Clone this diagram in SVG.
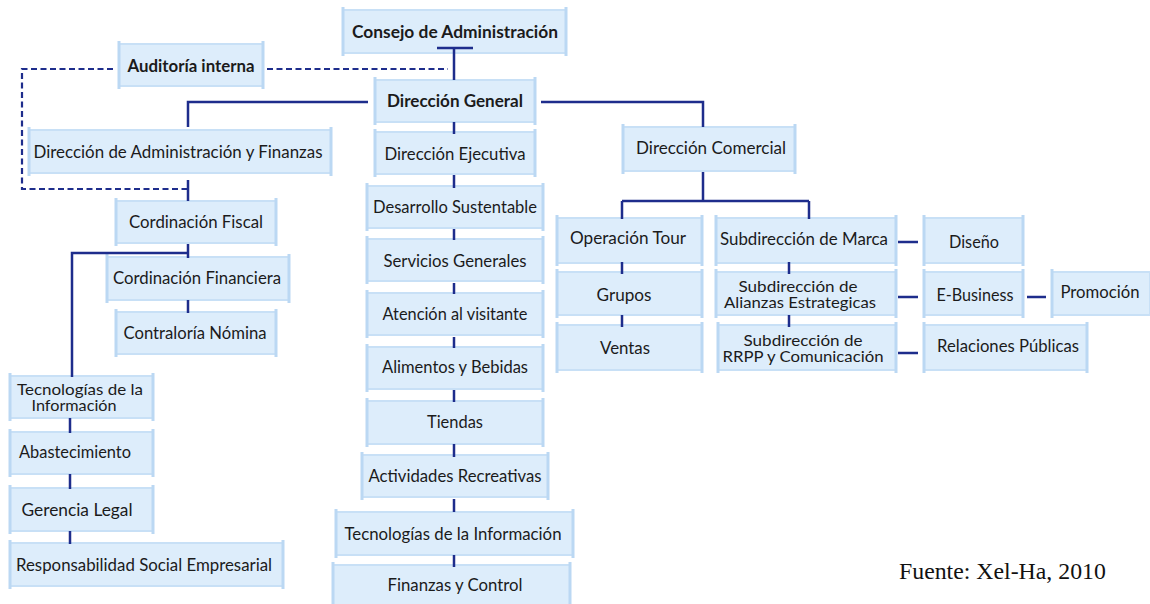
<svg xmlns="http://www.w3.org/2000/svg" width="1150" height="604" viewBox="0 0 1150 604">
<style>
.bg{fill:#ffffff}
.box{fill:#ddedfb;stroke:#c8e0f6;stroke-width:2}
.bar{stroke:#bbd8f3;stroke-width:3;fill:none}
.t{font-family:Lato,"Noto Sans","DejaVu Sans",sans-serif;font-size:16.5px;fill:#1b1b1b;text-anchor:middle;dominant-baseline:central}
.s{font-size:15px}
.b{font-weight:bold}
.c{stroke:#1e2d8c;stroke-width:2.5;fill:none}
.d{stroke:#1e2d8c;stroke-width:2.2;fill:none;stroke-dasharray:6 3.5}
.src{font-family:"Liberation Serif","Times New Roman",serif;font-size:23.8px;fill:#111}
</style>
<rect class="bg" x="0" y="0" width="1150" height="604"/>

<g id="n-consejo"><rect class="box" x="343" y="10" width="223" height="43"/><path class="bar" d="M343,7V56M566,7V56"/><text class="t b" x="455" y="32" textLength="206" lengthAdjust="spacingAndGlyphs">Consejo de Administración</text></g>
<g id="n-auditoria"><rect class="box" x="119" y="44" width="144" height="42"/><path class="bar" d="M119,41V89M263,41V89"/><text class="t b" x="191" y="66" textLength="127" lengthAdjust="spacingAndGlyphs">Auditoría interna</text></g>
<g id="n-dg"><rect class="box" x="375" y="80" width="160" height="42"/><path class="bar" d="M375,77V125M535,77V125"/><text class="t b" x="455" y="101" textLength="136" lengthAdjust="spacingAndGlyphs">Dirección General</text></g>
<g id="n-diradmin"><rect class="box" x="29" y="130" width="302" height="43"/><path class="bar" d="M29,127V176M331,127V176"/><text class="t" x="178" y="152" textLength="289" lengthAdjust="spacingAndGlyphs">Dirección de Administración y Finanzas</text></g>
<g id="n-direj"><rect class="box" x="375" y="132" width="160" height="42"/><path class="bar" d="M375,129V177M535,129V177"/><text class="t" x="455" y="154" textLength="141" lengthAdjust="spacingAndGlyphs">Dirección Ejecutiva</text></g>
<g id="n-dircom"><rect class="box" x="623" y="127" width="172" height="44"/><path class="bar" d="M623,124V174M795,124V174"/><text class="t" x="711" y="148" textLength="150" lengthAdjust="spacingAndGlyphs">Dirección Comercial</text></g>

<g id="n-fiscal"><rect class="box" x="116" y="201" width="160" height="42"/><path class="bar" d="M116,198V246M276,198V246"/><text class="t" x="196" y="222" textLength="134" lengthAdjust="spacingAndGlyphs">Cordinación Fiscal</text></g>
<g id="n-financiera"><rect class="box" x="107" y="257" width="182" height="43"/><path class="bar" d="M107,254V303M289,254V303"/><text class="t" x="197" y="278" textLength="168" lengthAdjust="spacingAndGlyphs">Cordinación Financiera</text></g>
<g id="n-contraloria"><rect class="box" x="116" y="312" width="160" height="42"/><path class="bar" d="M116,309V357M276,309V357"/><text class="t" x="195" y="333" textLength="143" lengthAdjust="spacingAndGlyphs">Contraloría Nómina</text></g>
<g id="n-tecinfo1"><rect class="box" x="10" y="376" width="143" height="42"/><path class="bar" d="M10,373V421M153,373V421"/><text class="t s" x="80" y="389" textLength="126" lengthAdjust="spacingAndGlyphs">Tecnologías de la</text><text class="t s" x="74" y="405" textLength="85" lengthAdjust="spacingAndGlyphs">Información</text></g>
<g id="n-abast"><rect class="box" x="10" y="432" width="143" height="42"/><path class="bar" d="M10,429V477M153,429V477"/><text class="t" x="75" y="452" textLength="112" lengthAdjust="spacingAndGlyphs">Abastecimiento</text></g>
<g id="n-gerencia"><rect class="box" x="10" y="488" width="143" height="43"/><path class="bar" d="M10,485V534M153,485V534"/><text class="t" x="77" y="510" textLength="111" lengthAdjust="spacingAndGlyphs">Gerencia Legal</text></g>
<g id="n-rse"><rect class="box" x="10" y="543" width="273" height="43"/><path class="bar" d="M10,540V589M283,540V589"/><text class="t" x="144" y="565" textLength="256" lengthAdjust="spacingAndGlyphs">Responsabilidad Social Empresarial</text></g>

<g id="n-desarrollo"><rect class="box" x="367" y="186" width="176" height="42"/><path class="bar" d="M367,183V231M543,183V231"/><text class="t" x="455" y="207" textLength="164" lengthAdjust="spacingAndGlyphs">Desarrollo Sustentable</text></g>
<g id="n-servicios"><rect class="box" x="367" y="239" width="176" height="42"/><path class="bar" d="M367,236V284M543,236V284"/><text class="t" x="455" y="261" textLength="143" lengthAdjust="spacingAndGlyphs">Servicios Generales</text></g>
<g id="n-atencion"><rect class="box" x="367" y="293" width="176" height="42"/><path class="bar" d="M367,290V338M543,290V338"/><text class="t" x="455" y="314" textLength="145" lengthAdjust="spacingAndGlyphs">Atención al visitante</text></g>
<g id="n-alimentos"><rect class="box" x="367" y="347" width="176" height="42"/><path class="bar" d="M367,344V392M543,344V392"/><text class="t" x="455" y="367" textLength="146" lengthAdjust="spacingAndGlyphs">Alimentos y Bebidas</text></g>
<g id="n-tiendas"><rect class="box" x="367" y="401" width="176" height="43"/><path class="bar" d="M367,398V447M543,398V447"/><text class="t" x="455" y="422" textLength="56" lengthAdjust="spacingAndGlyphs">Tiendas</text></g>
<g id="n-actividades"><rect class="box" x="362" y="455" width="186" height="42"/><path class="bar" d="M362,452V500M548,452V500"/><text class="t" x="455" y="476" textLength="173" lengthAdjust="spacingAndGlyphs">Actividades Recreativas</text></g>
<g id="n-tecinfo2"><rect class="box" x="336" y="512" width="237" height="43"/><path class="bar" d="M336,509V558M573,509V558"/><text class="t" x="453" y="534" textLength="217" lengthAdjust="spacingAndGlyphs">Tecnologías de la Información</text></g>
<g id="n-finanzas"><rect class="box" x="333" y="565" width="237" height="44"/><path class="bar" d="M333,562V604M570,562V604"/><text class="t" x="455" y="585" textLength="135" lengthAdjust="spacingAndGlyphs">Finanzas y Control</text></g>

<g id="n-optour"><rect class="box" x="557" y="218" width="145" height="45"/><path class="bar" d="M557,215V266M702,215V266"/><text class="t" x="628" y="238" textLength="116" lengthAdjust="spacingAndGlyphs">Operación Tour</text></g>
<g id="n-grupos"><rect class="box" x="557" y="272" width="145" height="43"/><path class="bar" d="M557,269V318M702,269V318"/><text class="t" x="624" y="295" textLength="55" lengthAdjust="spacingAndGlyphs">Grupos</text></g>
<g id="n-ventas"><rect class="box" x="557" y="325" width="145" height="45"/><path class="bar" d="M557,322V373M702,322V373"/><text class="t" x="625" y="348" textLength="50" lengthAdjust="spacingAndGlyphs">Ventas</text></g>
<g id="n-submarca"><rect class="box" x="716" y="218" width="180" height="45"/><path class="bar" d="M716,215V266M896,215V266"/><text class="t" x="804" y="239" textLength="168" lengthAdjust="spacingAndGlyphs">Subdirección de Marca</text></g>
<g id="n-subalianzas"><rect class="box" x="716" y="272" width="180" height="43"/><path class="bar" d="M716,269V318M896,269V318"/><text class="t s" x="798" y="285.5" textLength="119" lengthAdjust="spacingAndGlyphs">Subdirección de</text><text class="t s" x="800" y="301.5" textLength="152" lengthAdjust="spacingAndGlyphs">Alianzas Estrategicas</text></g>
<g id="n-subrrpp"><rect class="box" x="718" y="325" width="178" height="45"/><path class="bar" d="M718,322V373M896,322V373"/><text class="t s" x="803" y="340" textLength="119" lengthAdjust="spacingAndGlyphs">Subdirección de</text><text class="t s" x="803" y="356" textLength="161" lengthAdjust="spacingAndGlyphs">RRPP y Comunicación</text></g>
<g id="n-diseno"><rect class="box" x="924" y="218" width="99" height="45"/><path class="bar" d="M924,215V266M1023,215V266"/><text class="t" x="974" y="242" textLength="50" lengthAdjust="spacingAndGlyphs">Diseño</text></g>
<g id="n-ebusiness"><rect class="box" x="924" y="272" width="99" height="43"/><path class="bar" d="M924,269V318M1023,269V318"/><text class="t" x="975" y="295" textLength="77" lengthAdjust="spacingAndGlyphs">E-Business</text></g>
<g id="n-promocion"><rect class="box" x="1052" y="272" width="98" height="43"/><path class="bar" d="M1052,269V318"/><text class="t" x="1100" y="292" textLength="79" lengthAdjust="spacingAndGlyphs">Promoción</text></g>
<g id="n-relaciones"><rect class="box" x="924" y="325" width="163" height="45"/><path class="bar" d="M924,322V373M1087,322V373"/><text class="t" x="1008" y="346" textLength="142" lengthAdjust="spacingAndGlyphs">Relaciones Públicas</text></g>

<g id="connectors">
<path class="c" d="M437,48H473M454,48V80"/>
<path class="c" d="M368,102H188V127"/>
<path class="c" d="M541,102H703V127"/>
<path class="c" d="M454,122V134M454,175V188M454,229V240M454,283V294M454,337V348M454,390V402M454,444V457M454,499V512M454,555V567"/>
<path class="c" d="M188,180V201M188,244V258M188,253H72V377M188,300V313"/>
<path class="c" d="M70,418V433M70,474V489M70,531V544"/>
<path class="c" d="M703,172V201M622,201H809M622,201V219M809,201V219"/>
<path class="c" d="M622,262V274M622,315V327M789,262V274M789,315V327"/>
<path class="c" d="M898,242H918M898,297H918M1027,297H1046M898,353H918"/>
<path class="d" d="M113,69H22V189H187"/>
<path class="d" d="M267,69H448"/>
</g>

<text class="src" x="899" y="579">Fuente: Xel-Ha, 2010</text>
</svg>
